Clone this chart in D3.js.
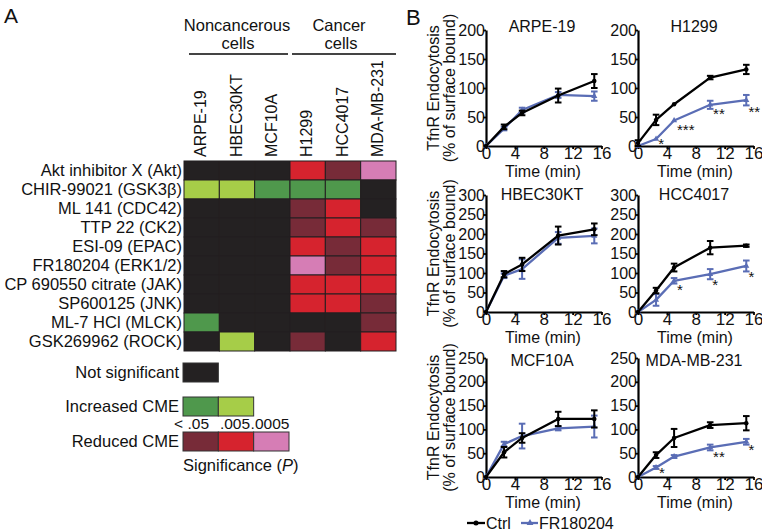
<!DOCTYPE html>
<html><head><meta charset="utf-8">
<script src="https://cdn.jsdelivr.net/npm/d3@7"></script>
<style>body{margin:0;background:#fff} svg{display:block;font-family:"Liberation Sans",Arial,sans-serif}</style>
</head><body><svg id="c" width="762" height="532"></svg>
<script>
// ---------- Panel A data ----------
const heatCols = ["ARPE-19","HBEC30KT","MCF10A","H1299","HCC4017","MDA-MB-231"];
const heatRows = ["Akt inhibitor X (Akt)","CHIR-99021 (GSK3β)","ML 141 (CDC42)","TTP 22 (CK2)","ESI-09 (EPAC)",
  "FR180204 (ERK1/2)","CP 690550 citrate (JAK)","SP600125 (JNK)","ML-7 HCl (MLCK)","GSK269962 (ROCK)"];
// 0 = not significant; 1,2 = increased CME (<.05, <.005); -1,-2,-3 = reduced CME (<.05, <.005, <.0005)
const heatValues = [
  [0,0,0,-2,-1,-3],
  [2,2,1,1,1,0],
  [0,0,0,-1,-2,0],
  [0,0,0,-1,-2,-1],
  [0,0,0,-2,-1,-2],
  [0,0,0,-3,-1,-2],
  [0,0,0,-2,-2,-2],
  [0,0,0,-2,-2,-1],
  [1,0,0,0,0,-1],
  [0,2,0,-1,0,-2]
];
const sigCodes = [-3,-2,-1,0,1,2];
const sigColors = ["#d67db5","#d6232e","#772b38","#242122","#4f984c","#a6cd48"];
const pLabels = ["< .05",".005",".0005"];

// ---------- Panel B data ----------
const times = [0, 2.5, 5, 10, 15];
const panelNames = ["ARPE-19","H1299","HBEC30KT","HCC4017","MCF10A","MDA-MB-231"];
const ctrlMean = [
  [0,33,57,87,112],
  [5,45,72,118,132],
  [0,97,122,196,212],
  [0,55,114,165,170],
  [0,52,82,122,122],
  [0,46,82,109,113]
];
const ctrlErr = [
  [0,4,4,12,12],
  [5,9,0,3,8],
  [0,8,17,23,15],
  [0,7,10,17,3],
  [0,11,10,15,18],
  [0,6,19,6,15]
];
const frMean = [
  [0,30,62,88,86],
  [0,12,44,71,79],
  [0,93,110,190,195],
  [0,31,80,97,118],
  [0,69,86,102,106],
  [0,20,43,62,74]
];
const frErr = [
  [0,3,4,5,8],
  [0,0,0,7,9],
  [0,6,25,15,19],
  [0,15,7,13,14],
  [0,5,26,4,23],
  [0,3,3,6,6]
];
const yMax = [200, 300, 250];
const yTicks = [[0,50,100,150,200],[0,50,100,150,200,250,300],[0,50,100,150,200,250]];
const xTicks = [0,4,8,12,16];
// significance stars (anchor in data units: time, value)
const stars = [
  {panel:1, t:2.8, v:10, s:"*"},
  {panel:1, t:5.4, v:34, s:"***"},
  {panel:1, t:10.4, v:61, s:"**"},
  {panel:1, t:15.3, v:65, s:"**"},
  {panel:3, t:5.4, v:67, s:"*"},
  {panel:3, t:10.3, v:79, s:"*"},
  {panel:3, t:15.3, v:100, s:"*"},
  {panel:5, t:2.9, v:17, s:"*"},
  {panel:5, t:10.4, v:50, s:"**"},
  {panel:5, t:15.3, v:65, s:"*"}
];

const svg = d3.select("#c");
const TXT = "#111";
const BLUE = "#5a6db5";

// ---------- Panel A ----------
svg.append("text").attr("x",4).attr("y",23).attr("font-size",21).attr("fill",TXT).text("A");

const color = d3.scaleOrdinal(sigCodes, sigColors);
const hx = d3.scaleBand(heatCols, [184, 396]);
const hy = d3.scaleBand(heatRows, [161, 351]);

// headers
const hdr = svg.append("g").attr("font-size",16.5).attr("fill",TXT).attr("text-anchor","middle");
hdr.append("text").attr("x",237).attr("y",31).text("Noncancerous");
hdr.append("text").attr("x",238).attr("y",49).text("cells");
hdr.append("text").attr("x",339).attr("y",31).text("Cancer");
hdr.append("text").attr("x",341).attr("y",49).text("cells");
svg.append("line").attr("x1",189).attr("x2",288).attr("y1",54).attr("y2",54).attr("stroke","#444").attr("stroke-width",2);
svg.append("line").attr("x1",292).attr("x2",396).attr("y1",54).attr("y2",54).attr("stroke","#444").attr("stroke-width",2);

// column labels
svg.append("g").selectAll("text").data(heatCols).join("text")
  .attr("transform", d => `translate(${hx(d)+hx.bandwidth()/2-1},157) rotate(-90)`)
  .attr("dy","0.35em").attr("font-size",16).attr("fill",TXT).text(d => d);

// row labels
svg.append("g").selectAll("text").data(heatRows).join("text")
  .attr("x",182).attr("y", d => hy(d)+hy.bandwidth()/2).attr("dy","0.36em")
  .attr("text-anchor","end").attr("font-size",16.5).attr("fill",TXT).text(d => d);

// cells
const cells = [];
heatValues.forEach((r,i) => r.forEach((v,j) => cells.push({row:heatRows[i], col:heatCols[j], v})));
svg.append("g").selectAll("rect").data(cells).join("rect")
  .attr("x", d => hx(d.col)).attr("y", d => hy(d.row))
  .attr("width", hx.bandwidth()).attr("height", hy.bandwidth())
  .attr("fill", d => color(d.v)).attr("stroke","#231f20").attr("stroke-width",1);
svg.append("line").attr("x1",184).attr("x2",396).attr("y1",160.5).attr("y2",160.5).attr("stroke","#8a8a8a").attr("stroke-width",1);

// legend A
const lg = svg.append("g").attr("font-size",16.5).attr("fill",TXT);
const lbw = hx.bandwidth(), lbh = 19;
function legRow(label, codes, ytop){
  lg.append("text").attr("x",179).attr("y",ytop+lbh/2).attr("dy","0.36em").attr("text-anchor","end").text(label);
  lg.selectAll(null).data(codes).join("rect")
    .attr("x",(d,i)=>183+i*lbw).attr("y",ytop).attr("width",lbw).attr("height",lbh)
    .attr("fill",d=>color(d)).attr("stroke","#333").attr("stroke-width",1);
}
legRow("Not significant",[0],363);
legRow("Increased CME",[1,2],397);
legRow("Reduced CME",[-1,-2,-3],432);
lg.append("text").attr("x",209).attr("y",429).attr("text-anchor","end").attr("font-size",15.5).text(pLabels[0]);
lg.append("text").attr("x",235).attr("y",429).attr("text-anchor","middle").attr("font-size",15.5).text(pLabels[1]);
lg.append("text").attr("x",270).attr("y",429).attr("text-anchor","middle").attr("font-size",15.5).text(pLabels[2]);
const sig = lg.append("text").attr("x",183).attr("y",471);
sig.append("tspan").text("Significance (");
sig.append("tspan").attr("font-style","italic").text("P");
sig.append("tspan").text(")");

// ---------- Panel B ----------
svg.append("text").attr("x",406).attr("y",25).attr("font-size",22).attr("fill",TXT).text("B");

const colX = [486, 638];
const rowGeo = [{y0:146,y1:30,title:32},{y0:312,y1:195,title:200},{y0:477,y1:358,title:366}];

panelNames.forEach((name, p) => {
  const c = p % 2, r = Math.floor(p / 2);
  const geo = rowGeo[r];
  const x = d3.scaleLinear([0,16],[colX[c], colX[c]+115.5]);
  const y = d3.scaleLinear([0,yMax[r]],[geo.y0, geo.y1]);
  const g = svg.append("g");

  const ya = g.append("g").attr("transform",`translate(${colX[c]},0)`)
    .call(d3.axisLeft(y).tickValues(yTicks[r]).tickSize(3).tickSizeOuter(0).tickPadding(-2));
  ya.selectAll("text").attr("font-size",16).attr("fill",TXT).attr("font-family",null);
  const xa = g.append("g").attr("transform",`translate(0,${geo.y0})`)
    .call(d3.axisBottom(x).tickValues(xTicks).tickSize(3).tickSizeOuter(0).tickPadding(-2));
  xa.selectAll("text").attr("font-size",17).attr("fill",TXT).attr("font-family",null);
  [ya, xa].forEach(a => {
    a.select(".domain").attr("stroke","#000").attr("stroke-width",2.2);
    a.selectAll(".tick line").attr("stroke","#000").attr("stroke-width",1.8);
  });

  g.append("text").attr("x",colX[c]+56).attr("y",geo.title).attr("text-anchor","middle")
    .attr("font-size",16).attr("fill",TXT).text(name);
  g.append("text").attr("x",colX[c]+57).attr("y",geo.y0+31).attr("text-anchor","middle")
    .attr("font-size",16).attr("fill",TXT).text("Time (min)");

  if (c === 0) {
    const cy = (geo.y0 + geo.y1) / 2;
    g.append("text").attr("transform",`translate(439,${cy}) rotate(-90)`).attr("text-anchor","middle")
      .attr("font-size",16).attr("fill",TXT).text("TfnR Endocytosis");
    g.append("text").attr("transform",`translate(455,${cy}) rotate(-90)`).attr("text-anchor","middle")
      .attr("font-size",16).attr("fill",TXT).text("(% of surface bound)");
  }

  const series = [
    {m: frMean[p], e: frErr[p], col: BLUE, sym: d3.symbolTriangle},
    {m: ctrlMean[p], e: ctrlErr[p], col: "#000", sym: d3.symbolCircle}
  ];
  series.forEach(s => {
    const pts = times.map((t,i) => ({t, v:s.m[i], e:s.e[i]}));
    g.append("path").datum(pts)
      .attr("d", d3.line().x(d=>x(d.t)).y(d=>y(d.v)))
      .attr("fill","none").attr("stroke",s.col).attr("stroke-width",2.3).attr("stroke-linejoin","round");
    const eb = g.append("g").attr("stroke",s.col).attr("stroke-width",2);
    pts.filter(d=>d.e>0).forEach(d => {
      eb.append("line").attr("x1",x(d.t)).attr("x2",x(d.t)).attr("y1",y(d.v-d.e)).attr("y2",y(d.v+d.e));
      eb.append("line").attr("x1",x(d.t)-3.3).attr("x2",x(d.t)+3.3).attr("y1",y(d.v-d.e)).attr("y2",y(d.v-d.e));
      eb.append("line").attr("x1",x(d.t)-3.3).attr("x2",x(d.t)+3.3).attr("y1",y(d.v+d.e)).attr("y2",y(d.v+d.e));
    });
    g.append("g").selectAll("path").data(pts).join("path")
      .attr("transform", d => `translate(${x(d.t)},${y(d.v)})`)
      .attr("d", d3.symbol(s.sym, 16)).attr("fill", s.col);
  });

  stars.filter(s => s.panel === p).forEach(s => {
    g.append("text").attr("x",x(s.t)).attr("y",y(s.v)+8.7).attr("font-size",15).attr("fill",TXT).text(s.s);
  });
});

// legend B
const lb = svg.append("g").attr("font-size",16).attr("fill",TXT);
lb.append("line").attr("x1",467).attr("x2",485).attr("y1",523).attr("y2",523).attr("stroke","#000").attr("stroke-width",2.3);
lb.append("path").attr("transform","translate(476,523)").attr("d",d3.symbol(d3.symbolCircle,20)).attr("fill","#000");
lb.append("text").attr("x",486).attr("y",523).attr("dy","0.36em").text("Ctrl");
lb.append("line").attr("x1",521).attr("x2",538).attr("y1",523).attr("y2",523).attr("stroke",BLUE).attr("stroke-width",2.3);
lb.append("path").attr("transform","translate(530,523)").attr("d",d3.symbol(d3.symbolTriangle,20)).attr("fill",BLUE);
lb.append("text").attr("x",539).attr("y",523).attr("dy","0.36em").text("FR180204");
</script></body></html>
